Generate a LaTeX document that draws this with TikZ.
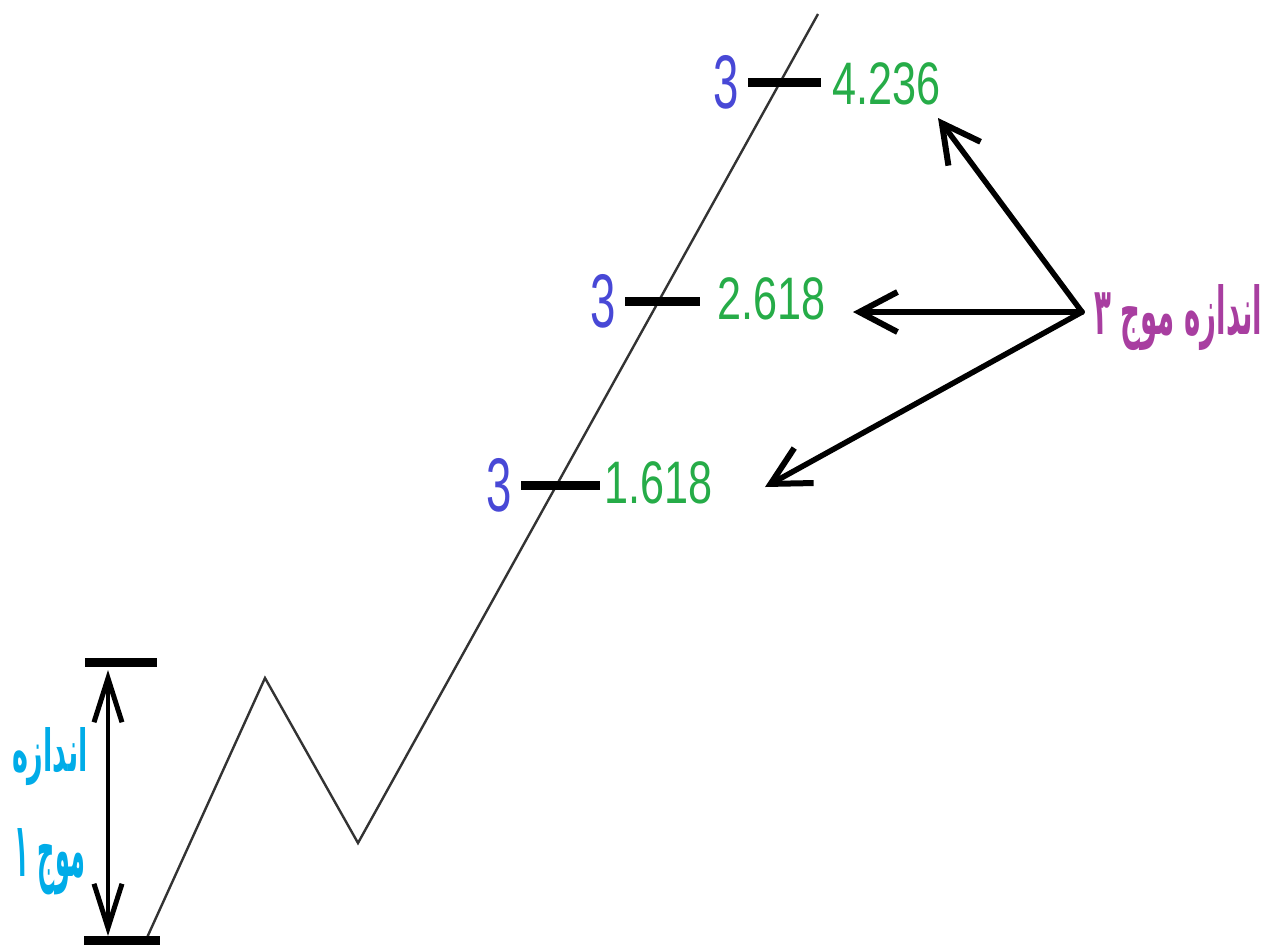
\documentclass[tikz,border=0pt]{standalone}
\usepackage{fontspec}
\usetikzlibrary{arrows.meta}
\TeXXeTstate=1
\setmainfont{Liberation Sans}
\newfontfamily\arabicfont[Script=Arabic]{DejaVu Sans}
\definecolor{numblue}{RGB}{72,72,214}
\definecolor{numgreen}{RGB}{38,172,72}
\definecolor{wpurple}{RGB}{168,62,160}
\definecolor{wcyan}{RGB}{0,172,232}
\tikzset{
  bar/.style={fill=black,inner sep=0pt,minimum height=9pt},
  wave/.style={draw=black!80,line width=2.4pt,line join=miter},
  ratio/.style={text=numgreen,inner sep=0pt,font=\fontsize{60}{60}\selectfont},
  three/.style={text=numblue,inner sep=0pt,font=\fontsize{76}{76}\selectfont},
  bigarrow/.style={line width=5.5pt,line cap=round,-{Straight Barb[length=38pt,width=40pt,line width=6pt]}},
  dblarrow/.style={line width=4.5pt,{Straight Barb[length=44pt,width=28pt,line width=5pt]}-{Straight Barb[length=44pt,width=28pt,line width=5pt]}},
  fa3/.style={text=wpurple,inner sep=0pt,font=\arabicfont\bfseries\fontsize{44}{50}\selectfont},
  fa1/.style={text=wcyan,inner sep=0pt,font=\arabicfont\bfseries\fontsize{40}{50}\selectfont}
}
\begin{document}
\begin{tikzpicture}[x=1pt,y=-1pt]
\useasboundingbox (0,0) rectangle (1268,946);
% zigzag wave
\coordinate (w0) at (145,942);
\coordinate (w1) at (265,678);
\coordinate (w2) at (358,843);
\coordinate (w3) at (818,14);
\draw[wave] (w0) -- (w1) -- (w2) -- (w3);
% wave 1 bars
\node[bar,minimum width=76pt] (bot) at (122,940) {};
\node[bar,minimum width=72pt] (top) at (121,662) {};
\coordinate (dt) at (108,670);
\coordinate (db) at (108,936);
\draw[dblarrow] (db) -- (dt);
\node[fa1] (l1a) at (50,757) {\resizebox{76pt}{44pt}{\beginR اندازه\endR}};
\node[fa1] (l1b) at (50,862) {\resizebox{70pt}{48pt}{\beginR موج ۱\endR}};
% levels
\node[bar,minimum width=79pt] (b1) at (560,485) {};
\node[bar,minimum width=75pt] (b2) at (662,301) {};
\node[bar,minimum width=73pt] (b3) at (784,82) {};
\node[three,anchor=east] (t1) at ([xshift=-8pt]b1.west) {\scalebox{0.6}[1]{3}};
\node[three,anchor=east] (t2) at ([xshift=-8pt]b2.west) {\scalebox{0.6}[1]{3}};
\node[three,anchor=east] (t3) at ([xshift=-8pt]b3.west) {\scalebox{0.6}[1]{3}};
\node[ratio,anchor=west] (r1) at ([xshift=5pt,yshift=2pt]b1.east) {\scalebox{0.72}[1]{1.618}};
\node[ratio,anchor=west] (r2) at ([xshift=18pt,yshift=2pt]b2.east) {\scalebox{0.72}[1]{2.618}};
\node[ratio,anchor=west] (r3) at ([xshift=12pt,yshift=-2pt]b3.east) {\scalebox{0.72}[1]{4.236}};
% wave 3 label and arrows
\node[fa3,anchor=west] (l3) at (1094,318) {\resizebox{168pt}{50pt}{\beginR اندازه موج ۳\endR}};
\coordinate (src) at (1082,312);
\coordinate (a1) at (938,118);
\coordinate (a2) at (853,312);
\coordinate (a3) at (765,487);
\draw[bigarrow] (src) -- (a1);
\draw[bigarrow] (src) -- (a2);
\draw[bigarrow] (src) -- (a3);
\end{tikzpicture}
\end{document}
